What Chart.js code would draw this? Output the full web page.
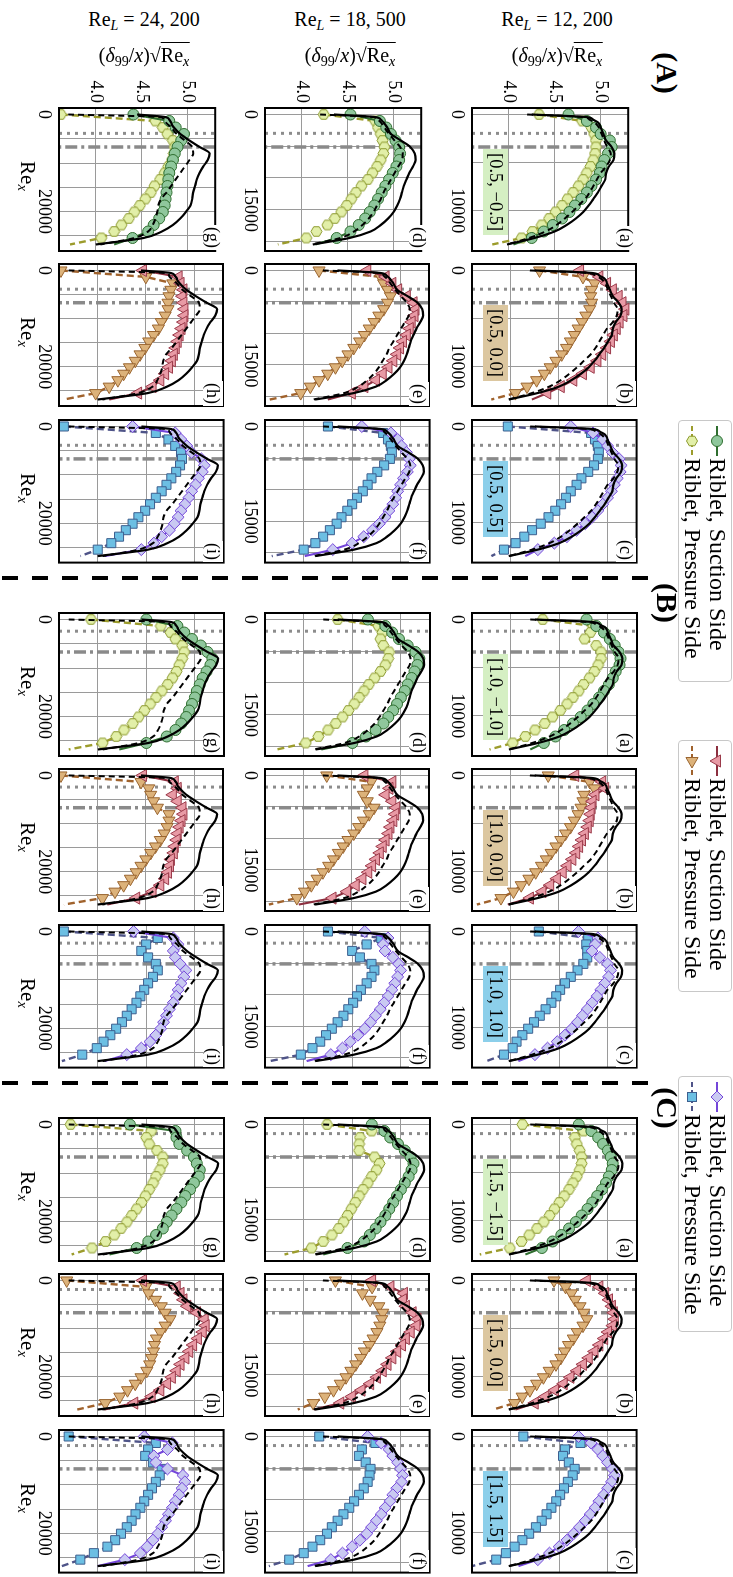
<!DOCTYPE html>
<html><head><meta charset="utf-8">
<script src="https://cdn.jsdelivr.net/npm/chart.js@4.4.1/dist/chart.umd.min.js"></script>
<style>
html,body{margin:0;padding:0;background:#fff;width:733px;height:1577px;overflow:hidden}
#fig{position:absolute;left:0;top:0;width:1577px;height:733px;transform-origin:0 0;transform:translate(733px,0) rotate(90deg);font-family:'Liberation Serif','DejaVu Serif',serif;color:#000}
#fig canvas{position:absolute}
.t{position:absolute;white-space:nowrap;line-height:1}
.rot{transform:translate(-50%,-50%) rotate(-90deg)}
.ctr{transform:translate(-50%,-50%)}
.box{position:absolute;height:25px;line-height:25px;font-size:18.5px;padding:0 4px;white-space:nowrap}
.plab{position:absolute;font-size:18px;transform:translateX(-100%);background:#fff;line-height:1;padding:1px 2px;white-space:nowrap}
.sep{position:absolute;width:4px;background:repeating-linear-gradient(to bottom,#000 0 16px,transparent 16px 30px)}
.leg{position:absolute;background:#fff;border:1px solid #c8c8c8;border-radius:4px;box-sizing:border-box;padding:1px 4px;font-size:24px}
.lrow{display:flex;align-items:center;height:25px;white-space:nowrap}
.lrow svg{margin-right:1px;flex:none}
sub{font-size:70%;vertical-align:-0.25em;line-height:0}
.ov{border-top:1.5px solid #000;padding-top:1px}
</style></head>
<body><div id="fig"></div>
<script>
// ---------------- data ----------------
const ReL_values = [12200, 18500, 24200];
const ReL_text = ['12, 200', '18, 500', '24, 200'];
const yTickValues = [4.0, 4.5, 5.0];
const yLimits = [3.6, 5.3];
const xGrid_12200 = [0, 5000, 10000];
const xGrid_18500 = [0, 5000, 10000, 15000, 20000];
const xGrid_24200 = [0, 5000, 10000, 15000, 20000, 25000];
const xLabeled_12200 = [0, 10000];
const xLabeled_18500 = [0, 15000];
const xLabeled_24200 = [0, 20000];
const xLimits_12200 = [-675, 14175];
const xLimits_18500 = [-1025, 21525];
const xLimits_24200 = [-1340, 28140];

// Re_x positions of the riblet measurement markers
const reX_12200 = [0,675,1350,2025,2700,3375,4050,4725,5400,6075,6750,7425,8100,8775,9450,10125,10800,11475,12150,12825,13500];
const reX_18500 = [0,1025,2050,3075,4100,5125,6150,7175,8200,9225,10250,11275,12300,13325,14350,15375,16400,17425,18450,19475,20500];
const reX_24200 = [0,1340,2680,4020,5360,6700,8040,9380,10720,12060,13400,14740,16080,17420,18760,20100,21440,22780,24120,25460,26800];

// Re_x positions of the smooth reference curves
const blackX_12200 = [0,270,540,810,1080,1350,2025,2700,3375,4050,4725,5400,6075,6750,7425,8100,8775,9450,10125,10800,11475,12150,12825,13500];
const blackX_18500 = [0,410,820,1230,1640,2050,3075,4100,5125,6150,7175,8200,9225,10250,11275,12300,13325,14350,15375,16400,17425,18450,19475,20500];
const blackX_24200 = [0,536,1072,1608,2144,2680,4020,5360,6700,8040,9380,10720,12060,13400,14740,16080,17420,18760,20100,21440,22780,24120,25460,26800];

const blackSolid_12200  = [4.25,4.85,4.92,4.97,4.99,5.00,5.03,5.06,5.12,5.15,5.14,5.09,5.06,5.05,5.01,4.97,4.92,4.87,4.81,4.73,4.63,4.50,4.28,3.98];
const blackDashed_12200 = [4.20,4.80,4.88,4.93,4.96,4.98,5.01,5.04,5.07,5.11,5.10,5.06,5.00,4.96,4.92,4.88,4.83,4.76,4.69,4.61,4.52,4.40,4.22,3.98];
const blackSolid_18500  = [4.35,4.80,4.86,4.89,4.91,4.93,4.97,5.08,5.18,5.23,5.24,5.21,5.17,5.14,5.11,5.09,5.07,5.04,5.00,4.94,4.86,4.75,4.52,4.12];
const blackDashed_18500 = [4.20,4.78,4.83,4.86,4.88,4.90,4.95,5.01,5.07,5.10,5.09,5.05,5.01,4.97,4.93,4.89,4.86,4.82,4.78,4.73,4.66,4.57,4.42,4.10];
const blackSolid_24200  = [4.45,4.76,4.80,4.82,4.83,4.85,4.92,5.02,5.13,5.24,5.22,5.17,5.13,5.10,5.08,5.06,5.05,5.03,4.98,4.92,4.84,4.72,4.52,4.00];
const blackDashed_24200 = [3.70,4.70,4.74,4.76,4.79,4.82,4.88,4.97,5.05,5.06,5.02,4.97,4.92,4.87,4.82,4.77,4.71,4.68,4.67,4.65,4.62,4.57,4.42,4.05];

// riblet start (dotted) per group, per Re_L row ; dash-dot line per row
const dotted_A = [1960, 2970, 3890];
const dotted_B = [1215, 1845, 2410];
const dotted_C = [945, 1435, 1875];
const dashDot = [3375, 5125, 6700];

// group (A) ------------------------------------------------
const suc_A12_a = [4.65,4.85,4.95,5.00,5.10,5.12,5.08,5.04,5.01,4.99,4.95,4.90,4.85,4.79,4.72,4.66,4.58,4.48,4.38,4.25,4.05];
const pre_A12_a = [4.33,4.80,4.90,4.93,4.95,4.95,4.94,4.92,4.89,4.85,4.81,4.76,4.70,4.64,4.58,4.51,4.44,4.36,4.26,4.14,3.82];
const suc_A12_b = [4.72,4.92,5.00,5.06,5.12,5.16,5.19,5.17,5.13,5.10,5.07,5.04,5.00,4.95,4.90,4.83,4.75,4.65,4.52,4.38,4.22];
const pre_A12_b = [4.30,4.75,4.87,4.84,4.83,4.84,4.82,4.78,4.74,4.70,4.66,4.62,4.58,4.53,4.47,4.41,4.35,4.27,4.17,4.05,3.80];
const suc_A12_c = [4.62,4.85,4.95,5.00,5.05,5.12,5.14,5.13,5.10,5.07,5.04,5.00,4.95,4.90,4.84,4.77,4.68,4.58,4.45,4.28,4.15];
const pre_A12_c = [3.97,4.83,4.87,4.90,4.91,4.90,4.86,4.80,4.73,4.68,4.62,4.57,4.52,4.46,4.39,4.31,4.22,4.14,4.05,3.93,3.80];
const suc_A18_d = [4.53,4.85,4.92,4.97,5.02,5.06,5.07,5.06,5.03,4.99,4.95,4.91,4.87,4.83,4.79,4.74,4.69,4.62,4.53,4.38,4.15];
const pre_A18_d = [4.24,4.80,4.83,4.86,4.88,4.90,4.89,4.86,4.82,4.77,4.72,4.65,4.59,4.54,4.49,4.43,4.36,4.28,4.16,4.05,3.74];
const suc_A18_e = [4.66,4.85,4.92,4.98,5.07,5.14,5.16,5.15,5.12,5.10,5.07,5.03,5.00,4.97,4.93,4.88,4.82,4.75,4.63,4.50,4.25];
const pre_A18_e = [4.16,4.80,4.83,4.87,4.90,4.87,4.83,4.78,4.73,4.68,4.63,4.58,4.52,4.46,4.40,4.33,4.25,4.16,4.07,3.97,3.65];
const suc_A18_f = [4.60,4.90,4.97,5.01,5.06,5.09,5.10,5.07,5.03,5.00,4.97,4.95,4.92,4.88,4.84,4.78,4.71,4.62,4.50,4.30,4.01];
const pre_A18_f = [4.25,4.82,4.87,4.90,4.91,4.89,4.83,4.76,4.70,4.66,4.61,4.55,4.50,4.45,4.39,4.34,4.27,4.20,4.12,4.00,3.67];
const suc_A24_g = [4.41,4.80,4.87,4.96,4.93,4.89,4.86,4.84,4.82,4.80,4.79,4.78,4.77,4.76,4.75,4.73,4.69,4.63,4.57,4.40,4.20];
const pre_A24_g = [3.62,4.65,4.73,4.78,4.84,4.86,4.85,4.83,4.79,4.75,4.70,4.64,4.60,4.54,4.48,4.42,4.36,4.28,4.20,4.06,3.72];
const suc_A24_h = [4.47,4.84,4.86,4.89,4.88,4.89,4.90,4.90,4.89,4.87,4.85,4.83,4.81,4.79,4.77,4.74,4.70,4.65,4.57,4.42,4.12];
const pre_A24_h = [3.62,4.50,4.78,4.76,4.74,4.73,4.73,4.70,4.66,4.63,4.58,4.53,4.49,4.44,4.39,4.33,4.27,4.21,4.12,3.98,3.65];
const suc_A24_i = [4.36,4.80,4.86,4.92,4.97,5.07,5.10,5.08,5.04,5.01,4.97,4.94,4.90,4.86,4.83,4.79,4.74,4.66,4.58,4.45,4.07];
const pre_A24_i = [3.65,4.60,4.73,4.80,4.86,4.87,4.85,4.81,4.76,4.71,4.66,4.60,4.54,4.49,4.42,4.36,4.29,4.22,4.14,4.00,3.82];
// group (B) ------------------------------------------------
const suc_B12_a = [4.78,4.88,4.96,5.02,5.07,5.11,5.13,5.12,5.08,5.05,5.01,4.96,4.91,4.85,4.79,4.72,4.64,4.55,4.46,4.34,4.20];
const pre_B12_a = [4.33,4.85,4.82,4.76,4.88,4.93,4.93,4.90,4.86,4.81,4.75,4.70,4.64,4.58,4.51,4.43,4.35,4.25,4.15,4.02,3.78];
const suc_B12_b = [4.67,4.95,4.98,4.88,4.85,4.84,4.83,4.82,4.80,4.77,4.74,4.71,4.68,4.64,4.59,4.54,4.48,4.41,4.33,4.20,3.97];
const pre_B12_b = [4.39,4.82,4.87,4.76,4.75,4.73,4.70,4.66,4.62,4.57,4.52,4.47,4.42,4.37,4.32,4.26,4.19,4.11,4.03,3.90,3.65];
const suc_B12_c = [4.70,4.90,4.87,4.84,4.92,5.00,5.03,5.01,4.97,4.93,4.89,4.84,4.79,4.74,4.69,4.63,4.56,4.48,4.38,4.25,4.08];
const pre_B12_c = [4.29,4.80,4.78,4.79,4.79,4.75,4.69,4.62,4.56,4.51,4.47,4.42,4.36,4.30,4.24,4.18,4.12,4.06,4.02,3.93,3.75];
const suc_B18_d = [4.66,4.84,4.91,4.98,5.07,5.15,5.19,5.17,5.14,5.11,5.07,5.04,5.00,4.96,4.92,4.87,4.82,4.74,4.64,4.50,4.18];
const pre_B18_d = [4.35,4.77,4.81,4.79,4.82,4.88,4.87,4.84,4.79,4.73,4.67,4.62,4.57,4.52,4.46,4.40,4.33,4.25,4.15,4.02,3.72];
const suc_B18_e = [4.63,4.92,4.89,4.85,4.92,4.96,4.95,4.93,4.90,4.88,4.85,4.82,4.79,4.75,4.71,4.67,4.61,4.54,4.45,4.30,3.95];
const pre_B18_e = [4.24,4.70,4.66,4.62,4.66,4.73,4.68,4.62,4.57,4.52,4.46,4.41,4.36,4.31,4.26,4.20,4.14,4.08,4.01,3.93,3.64];
const suc_B18_f = [4.63,4.87,4.82,4.84,4.92,4.98,5.00,4.97,4.94,4.91,4.87,4.83,4.79,4.74,4.69,4.63,4.56,4.48,4.40,4.28,4.03];
const pre_B18_f = [4.25,4.80,4.65,4.50,4.58,4.70,4.73,4.70,4.65,4.59,4.55,4.51,4.46,4.41,4.35,4.29,4.23,4.17,4.09,3.97,3.65];
const suc_B24_g = [4.50,4.82,4.89,4.97,5.06,5.13,5.18,5.16,5.12,5.08,5.05,5.02,5.00,4.97,4.94,4.91,4.86,4.80,4.71,4.50,4.22];
const pre_B24_g = [3.93,4.65,4.75,4.80,4.87,4.89,4.87,4.84,4.81,4.77,4.72,4.66,4.60,4.54,4.48,4.42,4.36,4.27,4.19,4.05,3.70];
const suc_B24_h = [4.47,4.80,4.83,4.78,4.83,4.88,4.89,4.87,4.85,4.83,4.82,4.80,4.79,4.76,4.75,4.73,4.70,4.65,4.57,4.40,4.10];
const pre_B24_h = [3.62,4.45,4.53,4.55,4.58,4.62,4.74,4.74,4.72,4.69,4.65,4.60,4.55,4.50,4.45,4.40,4.34,4.27,4.18,4.05,3.65];
const suc_B24_i = [4.37,4.78,4.83,4.78,4.80,4.85,4.91,4.89,4.86,4.83,4.81,4.78,4.74,4.71,4.68,4.65,4.60,4.54,4.45,4.30,4.07];
const pre_B24_i = [3.65,4.62,4.50,4.45,4.52,4.60,4.62,4.57,4.52,4.48,4.44,4.40,4.35,4.30,4.25,4.19,4.13,4.06,3.99,3.84,3.63];
// group (C) ------------------------------------------------
const suc_C12_a = [4.70,4.83,4.90,4.95,5.00,5.03,5.05,5.04,5.01,4.98,4.94,4.89,4.84,4.79,4.73,4.67,4.60,4.52,4.43,4.32,4.15];
const pre_C12_a = [4.12,4.75,4.66,4.68,4.71,4.73,4.73,4.71,4.68,4.64,4.60,4.55,4.50,4.45,4.40,4.34,4.27,4.19,4.11,3.99,3.68];
const suc_C12_b = [4.79,4.92,4.98,5.02,5.05,5.07,5.08,5.06,5.01,4.97,4.92,4.87,4.81,4.75,4.69,4.62,4.55,4.46,4.36,4.25,4.05];
const pre_C12_b = [4.45,4.57,4.63,4.67,4.72,4.76,4.79,4.75,4.69,4.65,4.60,4.56,4.52,4.47,4.40,4.34,4.27,4.20,4.12,4.04,3.82];
const suc_C12_c = [4.70,4.83,4.90,4.95,5.00,5.05,5.07,5.04,5.00,4.96,4.91,4.87,4.82,4.77,4.71,4.65,4.58,4.50,4.40,4.28,4.08];
const pre_C12_c = [4.13,4.72,4.56,4.54,4.60,4.66,4.64,4.59,4.55,4.51,4.47,4.42,4.37,4.32,4.26,4.19,4.12,4.04,3.95,3.85,3.60];
const suc_C18_d = [4.70,4.83,4.89,4.97,5.04,5.10,5.13,5.11,5.08,5.04,5.00,4.96,4.92,4.88,4.84,4.79,4.74,4.68,4.62,4.45,4.20];
const pre_C18_d = [4.24,4.70,4.58,4.57,4.57,4.73,4.78,4.75,4.70,4.66,4.61,4.57,4.53,4.49,4.45,4.41,4.36,4.29,4.20,4.08,3.80];
const suc_C18_e = [4.71,4.90,5.04,5.03,5.06,5.13,5.18,5.17,5.11,5.06,5.02,4.97,4.92,4.87,4.82,4.76,4.69,4.60,4.50,4.38,4.11];
const pre_C18_e = [4.33,4.71,4.61,4.69,4.78,4.82,4.81,4.79,4.76,4.72,4.68,4.63,4.59,4.54,4.49,4.44,4.38,4.31,4.22,4.10,3.94];
const suc_C18_f = [4.66,4.80,4.88,4.92,4.97,5.00,5.02,5.01,4.96,4.92,4.89,4.84,4.80,4.75,4.70,4.65,4.58,4.50,4.40,4.28,4.04];
const pre_C18_f = [4.16,4.74,4.60,4.57,4.64,4.69,4.68,4.66,4.62,4.57,4.52,4.47,4.41,4.35,4.29,4.24,4.17,4.09,4.00,3.85,3.64];
const suc_C24_g = [4.33,4.80,4.81,4.84,4.92,4.99,5.02,5.05,5.04,4.99,4.95,4.90,4.86,4.81,4.76,4.71,4.67,4.60,4.52,4.40,4.12];
const pre_C24_g = [3.72,4.55,4.50,4.53,4.61,4.67,4.67,4.64,4.60,4.57,4.53,4.49,4.45,4.40,4.35,4.30,4.24,4.17,4.08,3.94,3.73];
const suc_C24_h = [4.47,4.82,4.86,4.89,4.93,5.03,5.11,5.12,5.09,5.04,4.99,4.95,4.91,4.86,4.82,4.77,4.72,4.65,4.56,4.38,4.07];
const pre_C24_h = [3.68,4.50,4.53,4.60,4.66,4.70,4.75,4.70,4.65,4.61,4.59,4.58,4.56,4.54,4.51,4.45,4.39,4.31,4.23,4.08,3.79];
const suc_C24_i = [4.48,4.77,4.72,4.58,4.60,4.72,4.88,4.90,4.87,4.84,4.80,4.77,4.73,4.70,4.66,4.62,4.57,4.51,4.44,4.28,4.00];
const pre_C24_i = [3.70,4.60,4.52,4.49,4.57,4.66,4.64,4.60,4.56,4.52,4.48,4.44,4.39,4.35,4.30,4.24,4.18,4.10,3.96,3.82,3.63];

const boxLabels_A = ['[0.5, \u22120.5]', '[0.5, 0.0]', '[0.5, 0.5]'];
const boxLabels_B = ['[1.0, \u22121.0]', '[1.0, 0.0]', '[1.0, 1.0]'];
const boxLabels_C = ['[1.5, \u22121.5]', '[1.5, 0.0]', '[1.5, 1.5]'];
const legendLabels = ['Riblet, Suction Side', 'Riblet, Pressure Side'];

// ---------------- tables built from the arrays ----------------
const SERIES = {suc_A12_a,pre_A12_a,suc_A12_b,pre_A12_b,suc_A12_c,pre_A12_c,suc_A18_d,pre_A18_d,suc_A18_e,pre_A18_e,suc_A18_f,pre_A18_f,suc_A24_g,pre_A24_g,suc_A24_h,pre_A24_h,suc_A24_i,pre_A24_i,
suc_B12_a,pre_B12_a,suc_B12_b,pre_B12_b,suc_B12_c,pre_B12_c,suc_B18_d,pre_B18_d,suc_B18_e,pre_B18_e,suc_B18_f,pre_B18_f,suc_B24_g,pre_B24_g,suc_B24_h,pre_B24_h,suc_B24_i,pre_B24_i,
suc_C12_a,pre_C12_a,suc_C12_b,pre_C12_b,suc_C12_c,pre_C12_c,suc_C18_d,pre_C18_d,suc_C18_e,pre_C18_e,suc_C18_f,pre_C18_f,suc_C24_g,pre_C24_g,suc_C24_h,pre_C24_h,suc_C24_i,pre_C24_i};
const ROWS = [
  {key:'12', markerX:reX_12200, blackX:blackX_12200, solid:blackSolid_12200, dashed:blackDashed_12200, grid:xGrid_12200, labeled:xLabeled_12200, lim:xLimits_12200},
  {key:'18', markerX:reX_18500, blackX:blackX_18500, solid:blackSolid_18500, dashed:blackDashed_18500, grid:xGrid_18500, labeled:xLabeled_18500, lim:xLimits_18500},
  {key:'24', markerX:reX_24200, blackX:blackX_24200, solid:blackSolid_24200, dashed:blackDashed_24200, grid:xGrid_24200, labeled:xLabeled_24200, lim:xLimits_24200}
];
const GROUPS = ['A','B','C'];
const DOTTED = {A:dotted_A, B:dotted_B, C:dotted_C};
const BOXLAB = {A:boxLabels_A, B:boxLabels_B, C:boxLabels_C};
const LETTERS = [['a','b','c'],['d','e','f'],['g','h','i']];

// ---------------- styles / layout ----------------
const FONT = "'Liberation Serif','DejaVu Serif',serif";
Chart.defaults.font.family = FONT;
Chart.defaults.color = '#000';
const groupLeft = [108, 613, 1118], colOff = [0, 156, 312], rowTop = [91, 298, 504];
const PW = 148, PH = 170, L = 44, B = 26;
const boxColors = ['#d5efc3', '#dcc7a0', '#8ccfea'];

function hexImg(fill, edge, size) {
  const c = document.createElement('canvas'); c.width = c.height = size;
  const x = c.getContext('2d'); const r = size / 2 - 1;
  x.beginPath();
  for (let k = 0; k < 6; k++) { const a = -Math.PI / 2 + k * Math.PI / 3; const px = size / 2 + r * Math.cos(a), py = size / 2 + r * Math.sin(a); k ? x.lineTo(px, py) : x.moveTo(px, py); }
  x.closePath(); x.fillStyle = fill; x.fill(); x.lineWidth = 1; x.strokeStyle = edge; x.stroke();
  return c;
}
const STY = [
  {suc:{line:'#2f6e2f', fill:'#8fc79c', edge:'#2f6e2f', shape:'circle', r:5.5, rot:0},
   pre:{line:'#9c9c2c', fill:'#e2efa8', edge:'#8c9a2e', shape:hexImg('#e2efa8','#8c9a2e',13), r:6, rot:0, hex:true}},
  {suc:{line:'#8c2f3f', fill:'#e89aa5', edge:'#9b3a4a', shape:'triangle', r:7, rot:180},
   pre:{line:'#a0622c', fill:'#dcb27a', edge:'#9a6530', shape:'triangle', r:7, rot:90}},
  {suc:{line:'#7446d9', fill:'#c9c9f2', edge:'#7446d9', shape:'rectRot', r:6, rot:0},
   pre:{line:'#4f5488', fill:'#6cbfe3', edge:'#3d5f8f', shape:'rect', r:6.4, rot:0}}
];

const fig = document.getElementById('fig');
function el(tag, cls, html, css) { const e = document.createElement(tag); if (cls) e.className = cls; if (html != null) e.innerHTML = html; Object.assign(e.style, css || {}); fig.appendChild(e); return e; }
const pts = (xs, ys) => xs.map((x, i) => ({x, y: ys[i]}));

const boxPlugin = {id:'box', afterDraw(ch) { const {ctx, chartArea:a} = ch; ctx.save(); ctx.strokeStyle = '#000'; ctx.lineWidth = 2; ctx.strokeRect(a.left, a.top, a.right - a.left, a.bottom - a.top); ctx.restore(); }};

function riblet(data, st, dashed) {
  const n = data.length;
  return {data, borderColor: st.line, borderWidth: dashed ? 2.4 : 2.1, borderDash: dashed ? [7,4] : [],
    pointStyle: st.shape, pointRotation: st.rot, pointBackgroundColor: st.fill, pointBorderColor: st.edge, pointBorderWidth: 1,
    pointRadius: (c) => c.dataIndex === n - 1 ? 0 : st.r, tension: 0, fill: false};
}

for (let g = 0; g < 3; g++) for (let r = 0; r < 3; r++) for (let c = 0; c < 3; c++) {
  const row = ROWS[r], G = GROUPS[g], letter = LETTERS[r][c];
  const x0 = groupLeft[g] + colOff[c], y0 = rowTop[r];
  const cv = document.createElement('canvas');
  cv.width = L + PW + 2; cv.height = 2 + PH + B;
  Object.assign(cv.style, {left: (x0 - L) + 'px', top: (y0 - 2) + 'px', width: cv.width + 'px', height: cv.height + 'px'});
  fig.appendChild(cv);
  const suc = SERIES['suc_' + G + row.key + '_' + letter];
  const pre = SERIES['pre_' + G + row.key + '_' + letter];
  const st = STY[c];
  const dx = DOTTED[G][r], ddx = dashDot[r];
  const showY = (g === 0 && c === 0);
  new Chart(cv, {
    type: 'line',
    data: {datasets: [
      {data: pts(row.blackX, row.solid), borderColor:'#000', borderWidth:2.2, pointRadius:0, cubicInterpolationMode:'monotone', fill:false},
      {data: pts(row.blackX, row.dashed), borderColor:'#000', borderWidth:2, borderDash:[6,4], pointRadius:0, cubicInterpolationMode:'monotone', fill:false},
      riblet(pts(row.markerX, suc), st.suc, false),
      riblet(pts(row.markerX, pre), st.pre, true),
      {data: [{x:dx, y:yLimits[0]}, {x:dx, y:yLimits[1]}], borderColor:'#8c8c8c', borderWidth:3, borderDash:[3,5], pointRadius:0},
      {data: [{x:ddx, y:yLimits[1]}, {x:ddx, y:yLimits[0]}], borderColor:'#8a8a8a', borderWidth:3.5, borderDash:[12,4,3,4], pointRadius:0}
    ]},
    options: {
      responsive:false, animation:false, devicePixelRatio:1, events:[],
      layout:{padding:{top:2, right:2, left:0, bottom:0}},
      plugins:{legend:{display:false}, tooltip:{enabled:false}},
      scales: {
        x: {type:'linear', min: row.lim[0], max: row.lim[1],
            grid:{color:'#9a9a9a', lineWidth:1, drawTicks:false}, border:{display:false},
            afterBuildTicks: s => { s.ticks = row.grid.map(v => ({value:v})); },
            afterFit: s => { s.height = B; },
            ticks:{autoSkip:false, maxRotation:0, minRotation:0, padding:4, font:{size:18}, callback: v => row.labeled.includes(v) ? String(v) : ''}},
        y: {type:'linear', min: yLimits[0], max: yLimits[1],
            grid:{color:'#9a9a9a', lineWidth:1, drawTicks:false}, border:{display:false},
            afterBuildTicks: s => { s.ticks = yTickValues.map(v => ({value:v})); },
            afterFit: s => { s.width = L; },
            ticks:{display: showY, padding:5, font:{size:18}, callback: v => Number(v).toFixed(1)}}
      }
    },
    plugins:[boxPlugin]
  });
  // panel letter
  el('div', 'plab', '(' + letter + ')', {left: (x0 + PW - 6) + 'px', top: (y0 + 6) + 'px'});
  // configuration box (top row only)
  if (r === 0) el('div', 'box', BOXLAB[G][c], {left: (x0 + 41) + 'px', top: (y0 + 134) + 'px', background: boxColors[c]});
  // Re_x label under bottom row
  if (r === 2) el('div', 't ctr', 'Re<sub><i>x</i></sub>', {left: (x0 + PW / 2 - 6) + 'px', top: '705px', fontSize: '21px'});
}

// row labels & axis titles
for (let r = 0; r < 3; r++) {
  const cy = rowTop[r] + PH / 2;
  el('div', 't rot', 'Re<sub><i>L</i></sub> = ' + ReL_text[r], {left: '19px', top: cy + 'px', fontSize: '20px'});
  el('div', 't rot', '(<i>\u03b4</i><sub>99</sub>/<i>x</i>)\u221a<span class="ov">Re<sub><i>x</i></sub></span>', {left: '55px', top: cy + 'px', fontSize: '20px'});
}
// group labels
[['(A)', 73], ['(B)', 603], ['(C)', 1108]].forEach(([t, x]) => el('div', 't ctr', t, {left: x + 'px', top: '66px', fontSize: '30px', fontWeight: 'bold'}));
// group separators
[578, 1083].forEach(x => el('div', 'sep', null, {left: (x - 2) + 'px', top: '85px', height: '648px'}));

// legends
function markerSVG(s, cx, cy) {
  if (s.shape === 'circle') return `<circle cx="${cx}" cy="${cy}" r="5.5" fill="${s.fill}" stroke="${s.edge}"/>`;
  if (s.hex) { let p = []; for (let k = 0; k < 6; k++) { const a = -Math.PI/2 + k*Math.PI/3; p.push((cx + 5.5*Math.cos(a)).toFixed(2) + ',' + (cy + 5.5*Math.sin(a)).toFixed(2)); } return `<polygon points="${p.join(' ')}" fill="${s.fill}" stroke="${s.edge}"/>`; }
  if (s.shape === 'triangle') { const R = 7; const p = [[0,-R],[R*0.866,R/2],[-R*0.866,R/2]].map(q => (cx+q[0]) + ',' + (cy+q[1])).join(' '); return `<polygon points="${p}" transform="rotate(${s.rot} ${cx} ${cy})" fill="${s.fill}" stroke="${s.edge}"/>`; }
  if (s.shape === 'rectRot') return `<polygon points="${cx},${cy-6} ${cx+6},${cy} ${cx},${cy+6} ${cx-6},${cy}" fill="${s.fill}" stroke="${s.edge}"/>`;
  return `<rect x="${cx-4.5}" y="${cy-4.5}" width="9" height="9" fill="${s.fill}" stroke="${s.edge}"/>`;
}
const legPos = [[420, 262], [740, 252], [1076, 256]];
for (let c = 0; c < 3; c++) {
  const st = STY[c];
  const rowsHtml = ['suc', 'pre'].map((k, i) => {
    const s = st[k];
    const line = `<line x1="1" y1="9" x2="31" y2="9" stroke="${s.line}" stroke-width="2" ${k === 'pre' ? 'stroke-dasharray="5,3"' : ''}/>`;
    return `<div class="lrow"><svg width="32" height="18" viewBox="0 0 32 18">${line}${markerSVG(s, 16, 9)}</svg><span>${legendLabels[i]}</span></div>`;
  }).join('');
  el('div', 'leg', rowsHtml, {left: legPos[c][0] + 'px', top: '1px', width: legPos[c][1] + 'px', height: '54px'});
}
</script>
</body></html>
